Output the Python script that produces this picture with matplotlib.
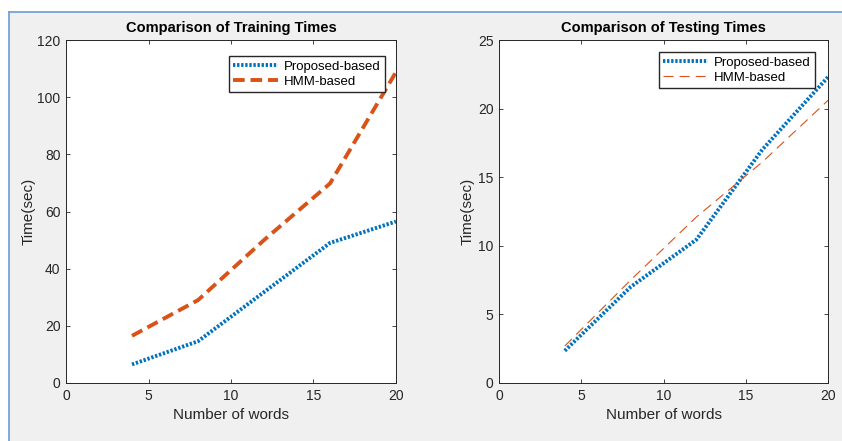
import matplotlib
matplotlib.use('Agg')
import matplotlib.pyplot as plt
from matplotlib.patches import Rectangle

plt.rcParams['font.family'] = ['Liberation Sans', 'DejaVu Sans']

# data
words = [4, 8, 12, 16, 20]
train_proposed = [6.5, 14.6, 31.8, 49.0, 56.5]
train_hmm = [16.5, 29.0, 50.0, 69.8, 108.8]
test_proposed = [2.35, 7.0, 10.45, 17.0, 22.3]
test_hmm = [2.7, 7.5, 12.1, 16.1, 20.6]

blue = '#0072BD'
red = '#D95319'
dark = '#262626'

fig = plt.figure(figsize=(8.42, 4.41), dpi=100, facecolor='white')
# grey window area with the blue frame on top/left
W, H = 842, 441
fig.patches.append(Rectangle((9 / W, 0), 1, (H - 12) / H, transform=fig.transFigure,
                             facecolor='#F0F0F0', edgecolor='none', zorder=-10))
fig.add_artist(plt.Line2D([9 / W, 1], [(H - 12) / H] * 2, transform=fig.transFigure,
                          color='#6C9BD6', lw=1.2))
fig.add_artist(plt.Line2D([9 / W, 9 / W], [0, (H - 12) / H], transform=fig.transFigure,
                          color='#6C9BD6', lw=1.2))

ax1 = fig.add_axes([66 / W, 58 / H, 330 / W, 343 / H])
ax2 = fig.add_axes([499 / W, 58 / H, 329 / W, 343 / H])

dotted = (0, (0.6, 0.45))

ax1.plot(words, train_proposed, color=blue, lw=2.8, linestyle=dotted, label='Proposed-based')
ax1.plot(words, train_hmm, color=red, lw=2.8, linestyle=(0, (3.0, 1.5)), label='HMM-based')
ax1.set_xlim(0, 20)
ax1.set_ylim(0, 120)
ax1.set_yticks(range(0, 121, 20))
ax1.set_title('Comparison of Training Times', fontsize=10.5, fontweight='bold', color='black', pad=6)

ax2.plot(words, test_proposed, color=blue, lw=2.8, linestyle=dotted, label='Proposed-based')
ax2.plot(words, test_hmm, color=red, lw=0.8, linestyle=(0, (9, 5.5)), label='HMM-based')
ax2.set_xlim(0, 20)
ax2.set_ylim(0, 25)
ax2.set_yticks(range(0, 26, 5))
ax2.set_title('Comparison of Testing Times', fontsize=10.5, fontweight='bold', color='black', pad=6)

for ax in (ax1, ax2):
    ax.set_xticks(range(0, 21, 5))
    ax.set_xlabel('Number of words', fontsize=11, color=dark)
    ax.set_ylabel('Time(sec)', fontsize=11, color=dark)
    ax.tick_params(direction='in', top=True, right=True, labelsize=10, colors=dark,
                   length=3, width=0.6, pad=4)
    for s in ax.spines.values():
        s.set_color(dark)
        s.set_linewidth(0.7)

ax1.legend(loc='upper right', bbox_to_anchor=(319 / 330, 1 - 16 / 343), borderaxespad=0,
           fontsize=9.5, fancybox=False, edgecolor=dark, framealpha=1, handlelength=3.4,
           handletextpad=0.4, borderpad=0.35, labelspacing=0.2)
ax2.legend(loc='upper right', bbox_to_anchor=(316 / 329, 1 - 12 / 343), borderaxespad=0,
           fontsize=9.5, fancybox=False, edgecolor=dark, framealpha=1, handlelength=3.4,
           handletextpad=0.4, borderpad=0.35, labelspacing=0.2)

ax1.yaxis.set_label_coords(-0.091, 0.5)
ax2.yaxis.set_label_coords(-0.073, 0.5)

fig.savefig('out.png', dpi=100, facecolor=fig.get_facecolor())
